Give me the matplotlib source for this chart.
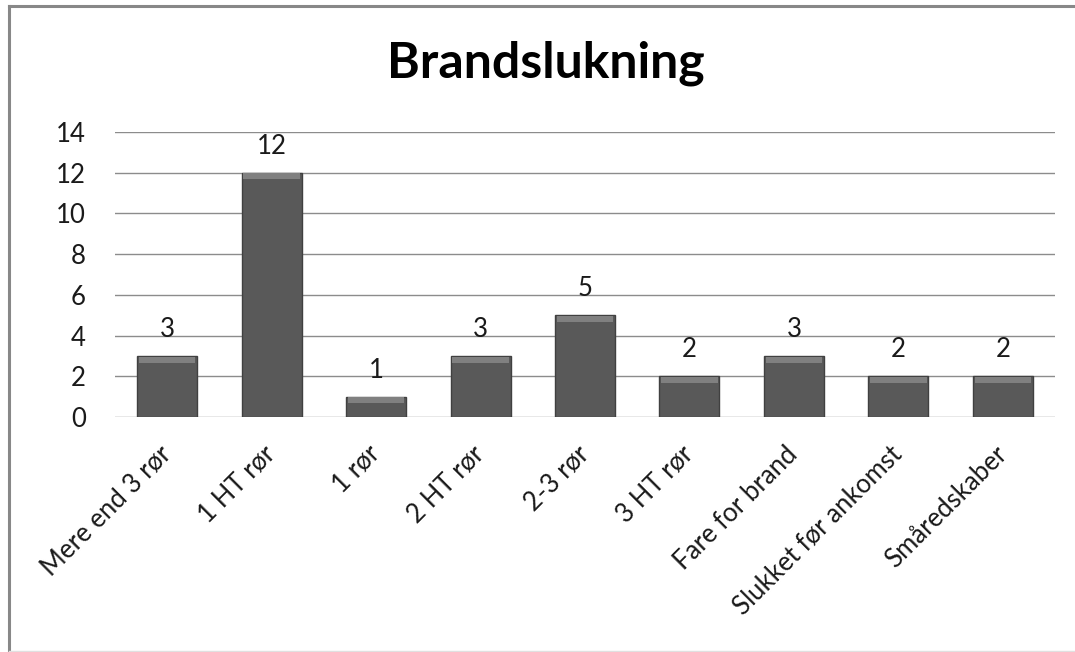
import numpy as np
import matplotlib.pyplot as plt
from matplotlib.lines import Line2D

categories = ["Mere end 3 rør", "1 HT rør", "1 rør", "2 HT rør", "2-3 rør",
              "3 HT rør", "Fare for brand", "Slukket før ankomst", "Småredskaber"]
values = [3, 12, 1, 3, 5, 2, 3, 2, 2]
yticks = [0, 2, 4, 6, 8, 10, 12, 14]

plt.rcParams['font.family'] = ['Lato', 'DejaVu Sans']

fig = plt.figure(figsize=(10.75, 6.52), dpi=100)
ax = fig.add_axes([115/1075, 1-417/652, 940/1075, 285/652])

x = np.arange(len(categories))
vals = np.array(values, dtype=float)

# main bars + lighter top bevel band
bars = ax.bar(x, vals, width=0.575, color='#595959', edgecolor='#404040',
              linewidth=1.0, zorder=3)
bevel = 0.3
ax.bar(x, np.full(len(vals), bevel), width=0.54, bottom=vals-bevel-0.03,
       color='#808080', linewidth=0, zorder=4)
ax.bar_label(bars, labels=[str(v) for v in values], padding=10, fontsize=18.5,
             color='#1a1a1a')

ax.set_xlim(-0.5, len(categories)-0.5)
ax.set_ylim(0, 14)
ax.set_yticks(yticks)
ax.yaxis.grid(True, color='#8c8c8c', linewidth=1.0, zorder=0)
ax.set_axisbelow(True)
for s in ax.spines.values():
    s.set_visible(False)
ax.tick_params(axis='y', length=0, pad=21, labelsize=18.5, labelcolor='#1a1a1a')
ax.tick_params(axis='x', length=0, pad=24, labelsize=18.5, labelcolor='#1a1a1a')
ax.set_xticks(x)
ax.set_xticklabels(categories, rotation=45, ha='right', va='center',
                   rotation_mode='anchor')

fig.text(546/1075, 1-77/652, "Brandslukning", fontsize=36, fontweight='bold',
         ha='center', va='baseline', color='black')

# chart frame (top and left edges visible)
fig.add_artist(Line2D([9/1075, 9/1075], [0, 1-6/652], transform=fig.transFigure,
                      color='#888888', linewidth=2.2))
fig.add_artist(Line2D([9/1075, 1], [1-6/652, 1-6/652], transform=fig.transFigure,
                      color='#888888', linewidth=2.2))
fig.add_artist(Line2D([9/1075, 1], [1/652, 1/652], transform=fig.transFigure,
                      color='#e0e0e0', linewidth=1))

fig.savefig("out.png", dpi=100)
